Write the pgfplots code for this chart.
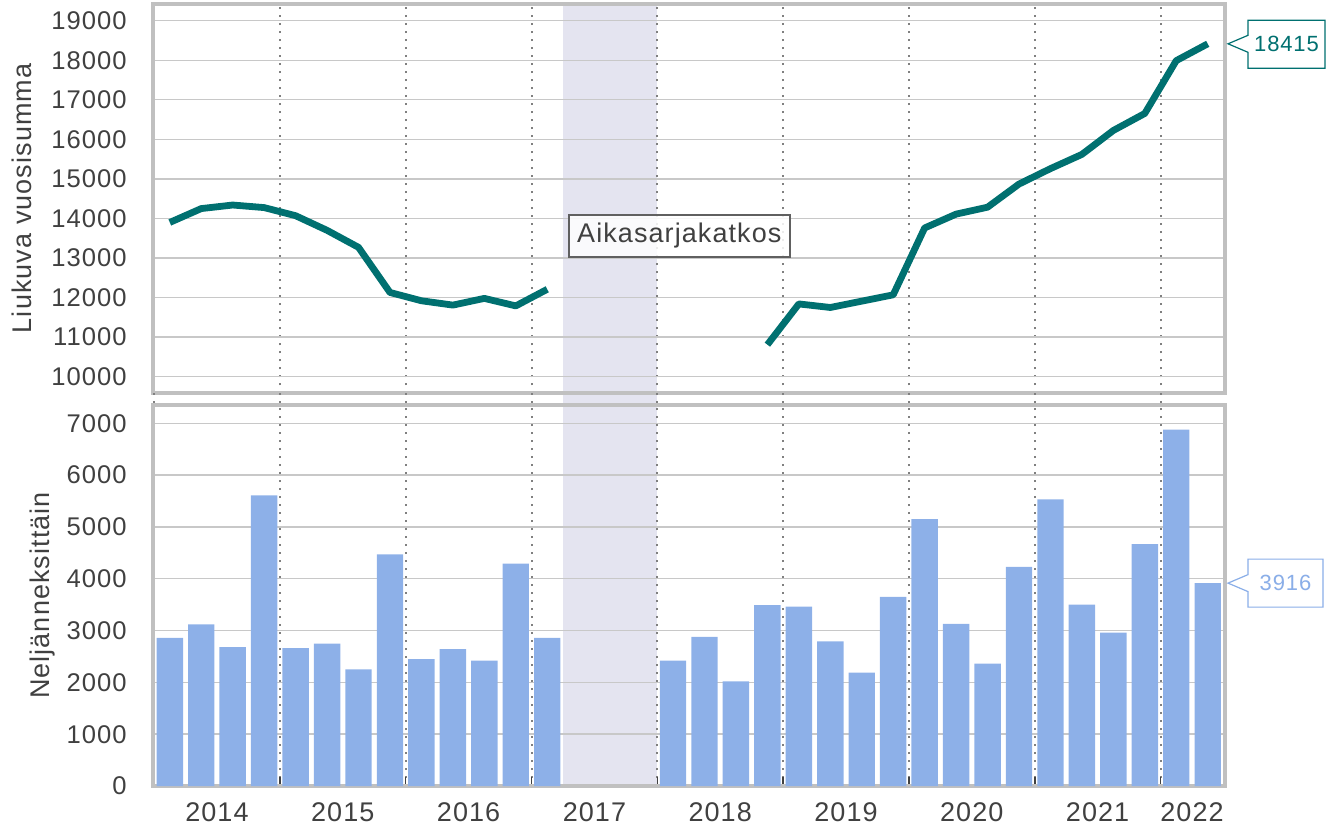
\documentclass[border=0pt]{standalone}
\usepackage{pgfplots}
\pgfplotsset{compat=1.18}
\usepackage{fontspec}
\setmainfont{Liberation Sans}[LetterSpace=4]
\usetikzlibrary{calc}
\definecolor{lineteal}{HTML}{007070}
\definecolor{barblue}{HTML}{8DB0E8}
\definecolor{calloutblue}{HTML}{8AAEE8}
\definecolor{gapshade}{HTML}{E4E4F0}
\definecolor{gridc}{HTML}{C8C8C8}
\definecolor{framec}{HTML}{C0C0C0}
\definecolor{txt}{HTML}{404040}
\definecolor{dotc}{HTML}{808080}
\definecolor{boxc}{HTML}{606060}

\pgfplotsset{
  common/.style={
    scale only axis, width=536.25pt, xmin=-0.55, xmax=33.55,
    axis line style={framec, line width=2pt},
    ymajorgrids, major grid style={gridc, line width=0.7pt},
    xtick={1.5,5.5,9.5,13.5,17.5,21.5,25.5,29.5,32.5},
    minor xtick={-0.5,3.5,7.5,11.5,15.5,19.5,23.5,27.5,31.5},
    xminorgrids, minor x grid style={dotc, line width=1pt, dash pattern=on 1pt off 3pt},
    major tick length=0pt,
    tick label style={text=txt},
    scaled y ticks=false,
    yticklabel style={font=\fontsize{12.8}{14}\selectfont, inner sep=0pt, anchor=east, xshift=-12.75pt},
    /pgf/number format/1000 sep={}, /pgf/number format/assume math mode=true,
    ylabel style={anchor=base, font=\fontsize{13.5}{16}\selectfont, text=txt},
    set layers, clip=false,
  }
}

\begin{document}
\begin{tikzpicture}
\path (0pt,0pt) rectangle (663.5pt,413pt);
% ---------- top panel: rolling annual sum ----------
\begin{axis}[common,
  at={(76.25pt,216.375pt)}, anchor=south west, height=194.875pt,
  ymin=9582, ymax=19434, ytick={10000,11000,...,19000},
  xticklabels={}, minor tick length=0pt, minor x tick style={draw=none},
  ylabel={Liukuva vuosisumma},
  ylabel style={at={(axis description cs:-0.1124,0.5)}},
]
\begin{pgfonlayer}{axis background}
  \fill[gapshade] (axis cs:12.5,19434) rectangle ([yshift=-6pt]axis cs:15.5,9582);
\end{pgfonlayer}
\pgfplotsinvokeforeach{-0.5,3.5,7.5,11.5,15.5,19.5,23.5,27.5,31.5}{
  \draw[dotc, line width=1pt, dash pattern=on 1pt off 3pt] (axis cs:#1,9582) -- ([yshift=-6pt]axis cs:#1,9582);
}
\addplot[lineteal, line width=3.4pt, line join=round] coordinates {
 (0,13900) (1,14250) (2,14340) (3,14275) (4,14070) (5,13700) (6,13270)
 (7,12130) (8,11920) (9,11810) (10,11980) (11,11790) (12,12210)
};
\addplot[lineteal, line width=3.4pt, line join=round] coordinates {
 (19,10810) (20,11840) (21,11750) (22,11910) (23,12070) (24,13760)
 (25,14110) (26,14285) (27,14870) (28,15260) (29,15620) (30,16225)
 (31,16655) (32,17990) (33,18415)
};
\node[draw=boxc, fill=white, fill opacity=0.85, text opacity=1, line width=0.75pt,
      minimum width=110.5pt, minimum height=21pt, inner sep=0pt,
      font=\fontsize{13.5}{16}\selectfont, text=txt] at (axis cs:16.2,13557) {Aikasarjakatkos};
\coordinate (T) at ([xshift=1.5pt]axis cs:33.55,18415);
\draw[lineteal, line width=0.6pt, fill=white] (T) -- ($(T)+(10pt,4.25pt)$) -- ($(T)+(10pt,11.75pt)$)
  -- ($(T)+(48.5pt,11.75pt)$) -- ($(T)+(48.5pt,-12.25pt)$) -- ($(T)+(10pt,-12.25pt)$)
  -- ($(T)+(10pt,-4.25pt)$) -- cycle;
\node[text=lineteal, font=\fontsize{11}{13}\selectfont, inner sep=0pt] at ($(T)+(29.25pt,-0.25pt)$) {18415};
\end{axis}

% ---------- bottom panel: quarterly ----------
\begin{axis}[common,
  at={(76.25pt,20pt)}, anchor=south west, height=190.5pt,
  ymin=0, ymax=7354, ytick={0,1000,...,7000},
  xticklabels={2014,2015,2016,2017,2018,2019,2020,2021,2022},
  xticklabel style={font=\fontsize{13.5}{16}\selectfont, anchor=base, inner sep=0pt, yshift=-17.5pt},
  minor tick length=4.5pt, minor x tick style={txt, line width=0.8pt},
  xtick pos=bottom, tick align=inside,
  ylabel={Neljänneksittäin},
  ylabel style={at={(axis description cs:-0.0956,0.5)}},
]
\begin{pgfonlayer}{axis background}
  \fill[gapshade] (axis cs:12.5,0) rectangle (axis cs:15.5,7354);
\end{pgfonlayer}
\addplot[ybar, bar width=0.84, fill=barblue, draw=none] coordinates {
 (0,2860) (1,3120) (2,2680) (3,5610)
 (4,2660) (5,2750) (6,2250) (7,4470)
 (8,2450) (9,2640) (10,2420) (11,4290)
 (12,2860)
 (16,2420) (17,2880) (18,2020) (19,3490)
 (20,3460) (21,2790) (22,2190) (23,3650)
 (24,5150) (25,3130) (26,2360) (27,4230)
 (28,5530) (29,3500) (30,2960) (31,4670)
 (32,6880) (33,3916)
};
\coordinate (U) at ([xshift=1.5pt]axis cs:33.55,3916);
\draw[calloutblue, line width=0.6pt, fill=white] (U) -- ($(U)+(10pt,4.25pt)$) -- ($(U)+(10pt,12pt)$)
  -- ($(U)+(47.5pt,12pt)$) -- ($(U)+(47.5pt,-12pt)$) -- ($(U)+(10pt,-12pt)$)
  -- ($(U)+(10pt,-4.25pt)$) -- cycle;
\node[text=calloutblue, font=\fontsize{11}{13}\selectfont, inner sep=0pt] at ($(U)+(28.75pt,0pt)$) {3916};
\end{axis}
\end{tikzpicture}
\end{document}
